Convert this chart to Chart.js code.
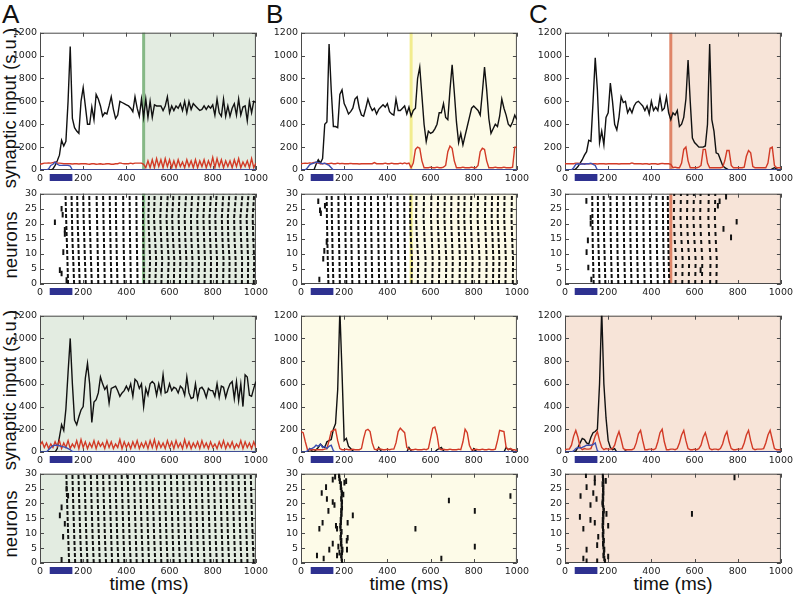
<!DOCTYPE html>
<html>
<head>
<meta charset="utf-8">
<script src="https://cdn.jsdelivr.net/npm/chart.js@4.4.1/dist/chart.umd.min.js"></script>
<style>
  body { margin: 0; background: #fff; width: 796px; height: 594px; position: relative; overflow: hidden;
         font-family: "Liberation Sans", Arial, sans-serif; color: #111; }
  canvas { position: absolute; }
  .lbl { position: absolute; white-space: nowrap; line-height: 1; }
  .letter { font-size: 26px; }
  .ylab { font-size: 18.5px; transform: translate(-50%, -50%) rotate(-90deg); }
  .xlab { font-size: 19px; transform: translateX(-50%); }
</style>
</head>
<body>
<div class="lbl letter" style="left:2px;top:1px">A</div>
<div class="lbl letter" style="left:266px;top:1px">B</div>
<div class="lbl letter" style="left:529px;top:1px">C</div>
<div class="lbl ylab" style="left:10px;top:108px">synaptic input (s.u.)</div>
<div class="lbl ylab" style="left:11px;top:245px">neurons</div>
<div class="lbl ylab" style="left:10px;top:390px">synaptic input (s.u.)</div>
<div class="lbl ylab" style="left:11px;top:524px">neurons</div>
<div class="lbl xlab" style="left:149px;top:574px">time (ms)</div>
<div class="lbl xlab" style="left:409px;top:574px">time (ms)</div>
<div class="lbl xlab" style="left:673px;top:574px">time (ms)</div>

<script>
// ---- data ----
const timeMs = [0,10,20,30,40,50,60,70,80,90,100,110,120,130,140,150,160,170,180,190,200,210,220,230,240,250,
  260,270,280,290,300,310,320,330,340,350,360,370,380,390,400,410,420,430,440,450,460,470,480,490,500,
  510,520,530,540,550,560,570,580,590,600,610,620,630,640,650,660,670,680,690,700,710,720,730,740,750,
  760,770,780,790,800,810,820,830,840,850,860,870,880,890,900,910,920,930,940,950,960,970,980,990,1000];
const stimTime = [0,10,20,30,40,50,60,70,80,90,100,110,120,130,140,150,160,170,180,190,200,1000];

const timeTicks = [0, 200, 400, 600, 800, 1000];
const inputTicks = [0, 200, 400, 600, 800, 1000, 1200];
const neuronTicks = [0, 5, 10, 15, 20, 25, 30];

const switchTimes = [480, 510, 490];   // A, B, C
const stimWindow = [45, 150];

// top row (switch mid-run)
const totalA1 = [0,0,0,0,0,0,10,40,80,130,260,210,250,600,1080,450,370,340,320,600,720,560,400,400,550,440,
  660,620,560,470,500,490,560,640,530,450,480,600,590,580,570,560,540,510,640,540,470,620,460,620,460,
  600,460,570,560,560,560,520,560,640,500,560,520,560,540,580,520,600,500,600,530,580,560,540,520,530,
  560,530,560,540,570,480,620,500,470,620,470,560,470,540,580,480,620,480,550,560,430,600,500,600,590];
const inhA1 = [50,55,60,60,62,60,65,70,60,60,58,55,55,55,55,52,55,55,52,55,55,55,52,50,55,55,50,52,55,50,
  52,55,55,50,50,55,55,62,58,55,55,55,60,55,60,60,60,60,
  50,20,80,20,90,20,100,30,90,20,100,30,90,20,80,20,90,30,70,20,90,30,80,20,90,20,80,30,90,20,
  80,30,110,20,100,30,90,20,80,30,80,20,90,30,100,20,70,30,80,20,100,20,60];
const stimA1 = [0,0,0,0,10,40,50,70,50,40,40,40,40,40,35,0,0,0,0,0,0,0];

const totalB1 = [0,0,0,0,0,0,0,50,90,60,100,400,420,1100,700,380,380,370,660,700,580,540,490,510,540,620,640,
  540,480,470,540,620,560,520,540,490,530,550,570,550,580,510,490,480,620,520,520,540,560,490,550,470,520,
  540,800,900,650,400,250,340,320,330,360,400,500,500,580,460,440,700,920,680,420,240,320,220,300,380,460,
  540,560,540,520,480,680,900,700,450,320,360,400,380,470,620,540,480,400,380,420,480,440];
const inhB1 = [55,58,60,58,62,60,65,65,60,55,55,58,55,55,60,55,55,60,55,58,55,55,55,58,55,55,55,52,55,55,
  55,55,55,55,65,55,55,55,55,60,55,55,60,55,55,55,60,55,62,55,60,
  20,60,180,200,190,80,20,20,20,25,20,20,25,20,20,25,40,160,210,190,80,20,20,20,25,20,20,20,25,20,
  20,40,160,190,180,80,20,20,20,25,20,20,20,25,20,20,20,25,200,200];
const stimB1 = [0,0,0,20,45,55,60,70,65,60,55,60,50,40,20,0,0,0,0,0,0,0];

const totalC1 = [0,0,0,0,0,10,30,60,90,130,160,260,250,600,980,700,240,340,220,460,500,760,600,400,350,
  460,640,590,600,500,540,500,560,590,600,580,560,520,560,490,600,520,550,520,640,520,540,640,500,440,500,
  480,520,380,400,460,620,960,600,280,240,220,200,200,200,210,400,1100,440,340,150,140,90,40,20,
  10,0,0,0,0,0,0,0,0,0,0,0,0,0,0,0,0,0,0,0,0,10,20,10,0,0];
const inhC1 = [55,55,55,55,55,60,60,55,55,55,55,55,55,55,55,52,55,55,55,52,55,55,55,55,55,52,55,55,55,55,
  55,62,55,55,55,55,52,55,55,50,55,55,55,50,55,58,55,55,55,
  50,20,25,20,20,60,180,200,80,20,20,20,20,25,40,180,180,60,20,20,20,20,20,20,25,80,170,170,40,20,
  20,20,20,20,25,120,170,150,30,20,20,20,20,20,20,60,190,200,40,20,20,20];
const stimC1 = [0,0,0,0,20,50,55,50,55,50,55,55,60,50,40,0,0,0,0,0,0,0];

// third row (condition from start)
const totalA3 = [0,0,0,0,0,0,0,0,30,130,240,190,380,700,1000,600,280,240,310,370,400,650,780,600,260,440,
  460,520,660,600,550,580,430,560,570,580,540,490,520,540,580,540,600,490,640,620,560,600,400,560,500,
  600,620,600,500,600,520,680,520,530,600,540,570,560,520,580,560,500,660,520,470,480,600,470,560,570,
  540,480,560,540,540,490,600,480,580,570,480,550,600,620,470,620,450,600,400,680,660,500,490,560,620];
const inhA3 = [60,90,40,80,30,70,40,90,50,100,30,80,40,100,30,70,40,100,30,110,40,90,30,80,40,100,30,90,50,80,
  30,100,40,90,30,70,40,110,30,90,40,80,30,90,40,100,30,80,40,90,30,100,40,110,30,90,40,80,30,100,
  40,90,30,100,40,80,30,110,40,90,30,80,40,90,30,100,40,80,30,90,40,70,30,90,40,100,30,80,40,90,
  30,70,40,100,30,90,40,80,30,90,40];
const stimA3 = [0,0,0,0,20,40,55,60,60,55,50,45,40,30,20,5,0,0,0,0,0,0];

const totalB3 = [0,0,0,0,30,10,0,20,40,70,50,40,90,100,110,200,250,550,1250,700,100,120,50,30,
  10,0,0,0,0,0,0,0,0,0,0,0,40,10,0,0,0,0,0,0,0,0,0,0,0,0,40,10,0,0,0,0,0,0,0,0,0,0,0,20,
  30,40,10,0,0,0,0,0,0,0,0,0,0,0,0,0,30,10,0,0,0,0,0,0,0,0,0,0,0,0,0,40,20,30,10,0,0];
const inhB3 = [180,170,90,20,20,20,20,20,20,20,20,25,30,100,180,190,200,100,30,20,20,25,20,20,25,20,20,20,30,120,
  190,200,180,80,25,20,30,25,20,20,25,20,25,25,80,180,210,190,170,40,25,20,20,25,20,20,20,25,20,30,
  120,210,220,150,30,20,25,20,20,25,20,20,20,25,20,90,200,170,60,20,20,25,20,20,25,20,20,25,20,20,
  25,100,190,185,180,40,20,30,20,20,10];
const stimB3 = [0,0,0,10,30,30,40,60,50,70,40,50,30,50,60,10,0,0,0,0,0,0];

const totalC3 = [0,0,0,0,0,10,40,80,120,110,80,70,130,170,180,200,600,1250,600,300,100,40,20,30,0,
  0,0,0,10,0,0,0,0,0,0,0,0,0,0,0,0,0,0,0,0,0,0,0,0,0,0,0,0,0,0,0,0,0,0,0,0,0,0,0,0,
  0,0,0,0,0,0,0,0,0,0,0,0,0,0,0,0,0,0,0,0,0,0,0,0,0,0,0,0,0,0,0,0,0,0,0,0];
const inhC3 = [20,25,25,60,140,190,130,40,20,30,25,25,30,80,140,180,100,40,20,30,25,25,30,60,130,180,110,30,20,20,
  20,20,30,80,160,190,100,20,20,25,25,20,30,90,170,200,90,20,20,25,25,20,30,80,150,190,100,30,20,20,
  25,20,30,60,130,170,100,30,20,25,25,20,30,70,140,180,90,30,20,20,25,25,30,80,150,190,100,30,20,25,
  25,25,30,80,150,190,110,30,20,20,20];
const stimC3 = [0,0,0,0,10,30,40,35,40,50,60,60,60,65,80,10,0,0,0,0,0,0];

// rasters: each volley = spike time at neurons 0, 8, 15, 22, 30
const volleyNeurons = [0, 8, 15, 22, 30];
const volleysA2 = [[130,127,124,121,118],[158,154,150,148,146],[184,180,177,174,172],[212,208,205,202,200],
  [240,236,233,230,228],[270,268,266,264,262],[300,298,296,294,292],[331,328,326,324,323],[359,356,354,352,351],
  [392,389,387,386,385],[421,419,417,416,415],[452,450,448,447,446],[482,480,478,477,477],
  [506,510,506,502,505],[534,538,533,528,531],[562,566,561,557,562],[592,596,590,586,592],[620,622,616,612,618],
  [648,650,645,642,646],[676,678,673,670,677],[705,706,701,699,705],[734,736,731,728,735],[762,764,760,757,762],
  [791,792,788,785,792],[819,820,815,812,818],[848,850,845,842,849],[877,878,872,870,877],[906,906,901,899,908],
  [935,936,931,928,938],[963,964,960,957,966],[990,992,988,985,992]];
const spikesA2 = [[69,20.5],[92,4.6],[100,3.5],[108,10.6],[100,25],[105,23],[115,18],[123,1.3],[115,16.6]];

const volleysB2 = [[127,124,122,120,119],[150,147,145,143,142],[180,178,176,174,173],[210,208,206,205,204],
  [238,235,233,232,231],[270,268,266,265,265],[301,299,297,296,296],[330,328,326,325,324],[362,360,358,357,356],
  [391,389,387,386,385],[422,420,418,417,416],[452,451,449,448,447],[483,482,480,479,478],
  [512,514,509,505,507],[541,543,537,533,535],[575,577,572,568,570],[608,610,606,602,604],[639,641,637,633,635],
  [671,673,668,664,666],[701,703,699,695,697],[734,736,732,728,730],[762,764,760,756,758],[793,795,790,786,789],
  [825,827,822,818,820],[858,860,856,852,854],[889,891,887,883,885],[917,919,915,911,913],[947,949,945,941,943],
  [981,982,978,975,977]];
const spikesB2 = [[80,27.5],[88,24.5],[92,23.5],[111,26],[85,1.5],[108,11],[103,8.4],[119,14]];

// C: full volleys until the switch, thinned volleys after it
const volleysC2 = [[133,130,128,127,126],[160,157,154,153,152],[187,184,181,180,179],[217,214,212,211,210],
  [247,244,242,241,240],[278,275,273,272,271],[308,305,303,302,301],[338,335,333,332,331],[369,366,364,363,362],
  [399,396,394,393,392],[430,427,425,424,423],[460,457,455,454,453],[483,480,478,477,476]];
const thinVolleysC2 = [[512,514,508,504,506],[543,545,539,535,537],[573,575,569,565,567],[603,605,599,595,597],
  [634,636,630,626,628],[672,674,668,664,666],[701,703,698,694,696]];
const spikesC2 = [[99,27.6],[106,14.5],[100,10.6],[108,5.5],[122,1.5],[119,22],[119,20],
  [708,26],[716,27.5],[734,18.3],[746,29],[769,15.5],[795,20.7],[628,4.6]];

const volleysA4 = [[135,131,128,125,122],[163,159,156,153,150],[192,187,184,181,178],[220,215,212,209,206],
  [249,244,241,238,235],[277,273,270,267,264],[306,301,298,295,292],[334,330,327,324,321],[363,358,355,352,349],
  [391,387,384,381,378],[420,415,412,409,406],[448,444,441,438,435],[477,472,469,466,463],[505,501,498,495,492],
  [534,529,526,523,520],[562,558,555,552,549],[591,586,583,580,577],[619,615,612,609,606],[648,643,640,637,634],
  [676,672,669,666,663],[705,700,697,694,691],[733,729,726,723,720],[762,757,754,751,748],[790,786,783,780,777],
  [819,814,811,808,805],[847,843,840,837,834],[876,871,868,865,862],[904,900,897,894,891],[933,928,925,922,919],
  [961,957,954,951,948],[990,985,982,979,976]];
const spikesA4 = [[92,16],[100,18.7],[100,1.1],[107,8.8],[115,13.2],[123,25],[130,22.6]];

// bottom row B and C: one synchronous volley (time per neuron 0..29) plus stray spikes
const volleyB4 = [190,188,186,190,192,188,185,187,183,185,188,183,182,185,184,186,188,186,190,188,
  190,186,188,190,187,184,185,180,178,176];
const spikesB4 = [[74,2.5],[105,1.5],[85,11.5],[100,13.5],[116,25.5],[96,23.5],[120,21.5],[127,17.5],
  [147,20.5],[155,19.5],[131,4.5],[147,6.5],[147,28],[158,29],[162,12.5],[167,11.5],[167,2.5],[178,3.5],
  [173,5.5],[209,27.5],[216,13.5],[240,16],[216,8.5],[212,7.5],[213,4.5],[201,27],[196,23],
  [530,11.5],[685,21],[650,1.5],[805,17.5],[805,5.5],[970,22.5]];
const volleyC4 = [185,182,178,180,182,178,176,180,177,175,178,176,174,177,175,178,176,180,178,176,
  174,177,175,178,176,178,174,178,176,175];
const spikesC4 = [[97,29.5],[138,28.5],[138,27],[100,25.5],[72,22.5],[131,23.5],[146,21.5],[118,19.5],
  [69,15.5],[118,14.5],[138,13.5],[85,11.5],[100,4.5],[85,1.5],[100,0.6],[149,0.6],[154,8.8],[149,6],
  [174,19.8],[192,16.5],[200,12.5],[200,2.2],[189,27.6],[588,16.5],[785,28.7]];

// ---- layout / style ----
const colLeft = [40, 301, 565];
const plotWidth = 217;
const rowTop = [32, 193, 315, 473];
const rowHeight = [138, 91, 137, 90];
const shadeFill = ['#e3ece1', '#fdfbe8', '#f7e4d8'];
const shadeLine = ['#86b886', '#f2ec8e', '#df8568'];
const totalColor = '#111111';
const inhColor = '#d23a26';
const stimColor = '#3d4fb0';
const barColor = '#2e3190';
const tickFont = { family: 'DejaVu Sans', size: 9.5 };

const panelDecor = {
  id: 'panelDecor',
  beforeDatasetsDraw(chart, args, opts) {
    const { ctx, chartArea: a } = chart;
    const x = chart.scales.x, y = chart.scales.y;
    ctx.save();
    if (opts.shadeFrom != null) {
      const xs = x.getPixelForValue(opts.shadeFrom);
      ctx.fillStyle = opts.fill;
      ctx.fillRect(xs, a.top, a.right - xs, a.bottom - a.top);
      if (opts.line) {
        ctx.strokeStyle = opts.line;
        ctx.lineWidth = 3;
        ctx.beginPath();
        ctx.moveTo(xs, a.top);
        ctx.lineTo(xs, a.bottom);
        ctx.stroke();
      }
    }
    ctx.strokeStyle = '#4a4a4a';
    ctx.lineWidth = 1;
    ctx.strokeRect(a.left + 0.5, a.top + 0.5, a.width - 1, a.height - 1);
    ctx.beginPath();
    x.ticks.forEach(t => {
      const px = Math.round(x.getPixelForValue(t.value)) + 0.5;
      ctx.moveTo(px, a.bottom); ctx.lineTo(px, a.bottom - 4);
      ctx.moveTo(px, a.top); ctx.lineTo(px, a.top + 4);
    });
    y.ticks.forEach(t => {
      const py = Math.round(y.getPixelForValue(t.value)) + 0.5;
      ctx.moveTo(a.left, py); ctx.lineTo(a.left + 4, py);
      ctx.moveTo(a.right, py); ctx.lineTo(a.right - 4, py);
    });
    ctx.stroke();
    ctx.restore();
  },
  afterDraw(chart) {
    const { ctx, chartArea: a } = chart;
    const x = chart.scales.x;
    const x0 = x.getPixelForValue(stimWindow[0]);
    const x1 = x.getPixelForValue(stimWindow[1]);
    ctx.save();
    ctx.fillStyle = barColor;
    ctx.fillRect(x0, a.bottom + 4, x1 - x0, 7);
    ctx.restore();
  }
};
Chart.register(panelDecor);

function series(times, values, color) {
  return {
    data: times.map((t, i) => ({ x: t, y: values[i] })),
    borderColor: color, borderWidth: 1.4, pointRadius: 0, tension: 0, fill: false
  };
}

function volleyLines(list, dash) {
  return list.map(v => ({
    data: v.map((t, i) => ({ x: t, y: volleyNeurons[i] })),
    borderColor: '#111', borderWidth: 2, borderDash: dash || [4, 2], pointRadius: 0, tension: 0
  }));
}

function spikeMarks(pairs) {
  return {
    data: pairs.map(p => ({ x: p[0], y: p[1] })),
    showLine: false, pointStyle: 'line', pointRadius: 2.8, pointRotation: 90,
    pointBorderWidth: 2, pointBorderColor: '#111', borderColor: '#111'
  };
}

function makePanel(col, row, datasets, yMax, yTicks, shadeFrom) {
  const cv = document.createElement('canvas');
  const W = plotWidth + 40 + 14;
  const H = rowHeight[row] + 8 + 22;
  cv.width = W; cv.height = H;
  cv.style.width = W + 'px'; cv.style.height = H + 'px';
  cv.style.left = (colLeft[col] - 40) + 'px';
  cv.style.top = (rowTop[row] - 8) + 'px';
  document.body.appendChild(cv);

  new Chart(cv, {
    type: 'line',
    data: { datasets },
    options: {
      responsive: false,
      animation: false,
      events: [],
      layout: { padding: { left: 0, right: 14, top: 8, bottom: 0 } },
      plugins: {
        legend: { display: false },
        tooltip: { enabled: false },
        panelDecor: { shadeFrom, fill: shadeFill[col], line: shadeFrom > 0 ? shadeLine[col] : null }
      },
      scales: {
        x: {
          type: 'linear', min: 0, max: 1000,
          grid: { display: false, drawTicks: false }, border: { display: false },
          ticks: { padding: 3, font: tickFont, color: '#222', maxRotation: 0, autoSkip: false,
                   callback: v => String(v) },
          afterBuildTicks: s => { s.ticks = timeTicks.map(v => ({ value: v })); },
          afterFit: s => { s.height = 22; }
        },
        y: {
          type: 'linear', min: 0, max: yMax,
          grid: { display: false, drawTicks: false }, border: { display: false },
          ticks: { padding: 3, font: tickFont, color: '#222', autoSkip: false,
                   callback: v => String(v) },
          afterBuildTicks: s => { s.ticks = yTicks.map(v => ({ value: v })); },
          afterFit: s => { s.width = 40; }
        }
      }
    }
  });
}

// row 1: synaptic input, switch mid-run
makePanel(0, 0, [series(stimTime, stimA1, stimColor), series(timeMs, inhA1, inhColor), series(timeMs, totalA1, totalColor)],
  1200, inputTicks, switchTimes[0]);
makePanel(1, 0, [series(stimTime, stimB1, stimColor), series(timeMs, inhB1, inhColor), series(timeMs, totalB1, totalColor)],
  1200, inputTicks, switchTimes[1]);
makePanel(2, 0, [series(stimTime, stimC1, stimColor), series(timeMs, inhC1, inhColor), series(timeMs, totalC1, totalColor)],
  1200, inputTicks, switchTimes[2]);

// row 2: rasters, switch mid-run
makePanel(0, 1, [...volleyLines(volleysA2), spikeMarks(spikesA2)], 30, neuronTicks, switchTimes[0]);
makePanel(1, 1, [...volleyLines(volleysB2), spikeMarks(spikesB2)], 30, neuronTicks, switchTimes[1]);
makePanel(2, 1, [...volleyLines(volleysC2), ...volleyLines(thinVolleysC2, [4, 4]), spikeMarks(spikesC2)],
  30, neuronTicks, switchTimes[2]);

// row 3: synaptic input, condition from the start
makePanel(0, 2, [series(stimTime, stimA3, stimColor), series(timeMs, inhA3, inhColor), series(timeMs, totalA3, totalColor)],
  1200, inputTicks, 0);
makePanel(1, 2, [series(stimTime, stimB3, stimColor), series(timeMs, inhB3, inhColor), series(timeMs, totalB3, totalColor)],
  1200, inputTicks, 0);
makePanel(2, 2, [series(stimTime, stimC3, stimColor), series(timeMs, inhC3, inhColor), series(timeMs, totalC3, totalColor)],
  1200, inputTicks, 0);

// row 4: rasters, condition from the start
makePanel(0, 3, [...volleyLines(volleysA4), spikeMarks(spikesA4)], 30, neuronTicks, 0);
makePanel(1, 3, [spikeMarks(volleyB4.map((t, n) => [t, n + 0.5])), spikeMarks(spikesB4)], 30, neuronTicks, 0);
makePanel(2, 3, [spikeMarks(volleyC4.map((t, n) => [t, n + 0.5])), spikeMarks(spikesC4)], 30, neuronTicks, 0);
</script>
</body>
</html>
